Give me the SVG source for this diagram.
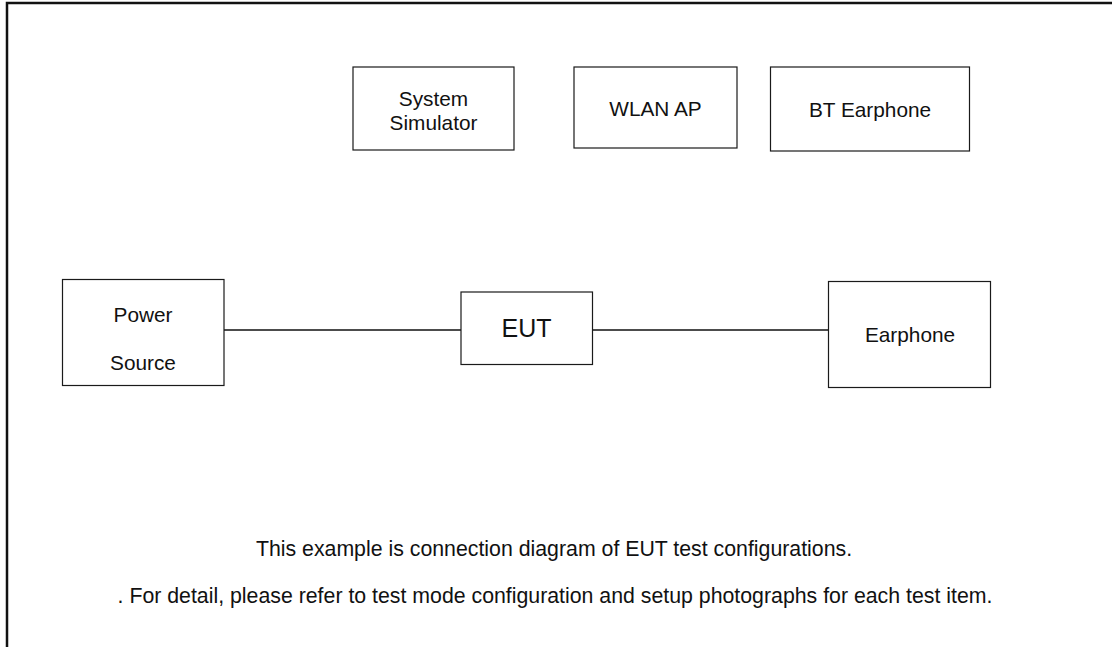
<svg xmlns="http://www.w3.org/2000/svg" width="1112" height="647" viewBox="0 0 1112 647">
  <style>
    .box { fill: #ffffff; stroke: #1a1a1a; stroke-width: 1.2; }
    .lbl { font-family: "Liberation Sans", Arial, sans-serif; font-size: 20.8px; fill: #111111; text-anchor: middle; }
    .big { font-size: 25px; }
    .note { font-size: 21.3px; }
    .wire { stroke: #111111; stroke-width: 1.4; fill: none; }
    .frame { stroke: #111111; stroke-width: 2.5; fill: none; }
  </style>
  <rect x="0" y="0" width="1112" height="647" fill="#ffffff"/>
  <!-- page frame: left and top edges only; the rest runs off the page -->
  <path class="frame" d="M7 647 V3 H1112"/>

  <g id="connectors">
    <line class="wire" x1="224" y1="330" x2="461" y2="330"/>
    <line class="wire" x1="592.5" y1="330" x2="828" y2="330"/>
  </g>

  <g id="system-simulator">
    <rect class="box" x="353" y="67" width="161" height="83"/>
    <text class="lbl" x="433.5" y="106">System</text>
    <text class="lbl" x="433.5" y="130">Simulator</text>
  </g>

  <g id="wlan-ap">
    <rect class="box" x="574" y="67" width="163" height="81"/>
    <text class="lbl" x="655.5" y="115.5">WLAN AP</text>
  </g>

  <g id="bt-earphone">
    <rect class="box" x="770.5" y="67" width="199" height="84"/>
    <text class="lbl" x="870" y="116.5">BT Earphone</text>
  </g>

  <g id="power-source">
    <rect class="box" x="62.5" y="279.5" width="161.5" height="106"/>
    <text class="lbl" x="143" y="322">Power</text>
    <text class="lbl" x="143" y="370">Source</text>
  </g>

  <g id="eut">
    <rect class="box" x="461" y="292" width="131.5" height="72.5"/>
    <text class="lbl big" x="526.5" y="337">EUT</text>
  </g>

  <g id="earphone">
    <rect class="box" x="828.5" y="281.5" width="162" height="106"/>
    <text class="lbl" x="910" y="341.5">Earphone</text>
  </g>

  <g id="notes">
    <text class="lbl note" x="554" y="556">This example is connection diagram of EUT test configurations.</text>
    <text class="lbl note" x="555" y="603">. For detail, please refer to test mode configuration and setup photographs for each test item.</text>
  </g>
</svg>
